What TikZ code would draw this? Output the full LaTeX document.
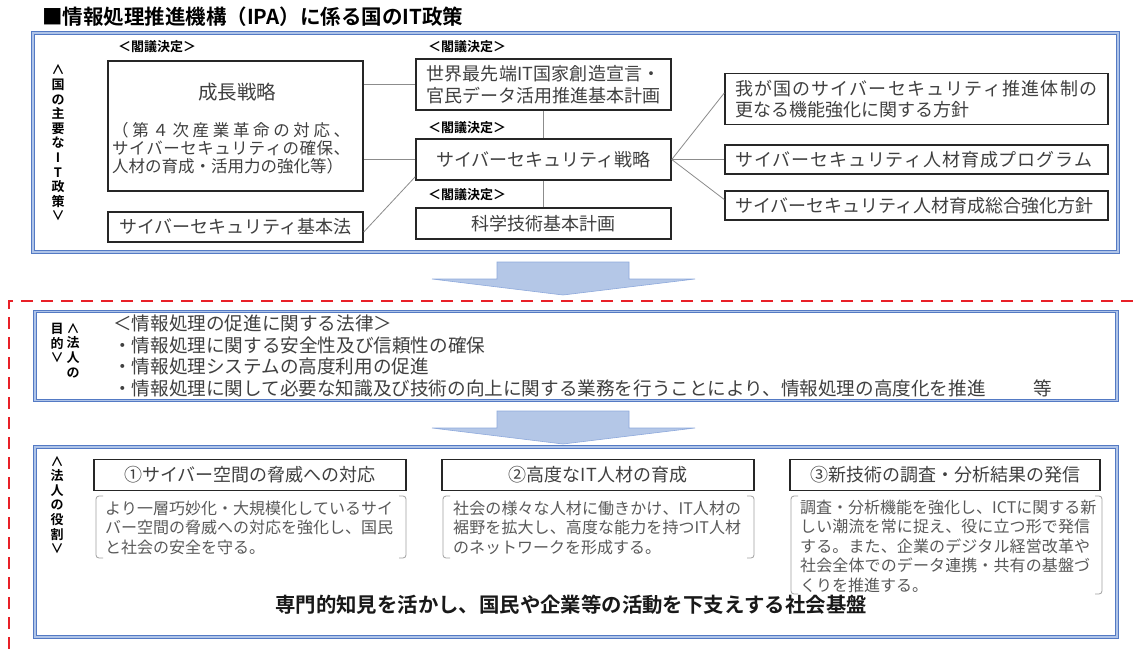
\documentclass[tikz,border=0pt]{standalone}
\usepackage{fontspec}
\newfontfamily\jp{Noto Sans CJK JP}[BoldFont={Noto Sans CJK JP Bold}]
\definecolor{frameblue}{RGB}{84,122,196}
\definecolor{framelight}{RGB}{175,196,232}
\definecolor{arrowfill}{RGB}{180,199,231}
\definecolor{arrowline}{RGB}{143,170,220}
\definecolor{txt}{RGB}{64,64,64}
\definecolor{txtlight}{RGB}{89,89,89}
\definecolor{dashred}{RGB}{232,32,40}
\definecolor{connc}{RGB}{140,140,140}
\makeatletter
\newcommand\spr[2]{\makebox[#1][s]{\let\spr@sep\relax\@tfor\spr@c:=#2\do{\spr@sep\spr@c\let\spr@sep\hfill}}}
\makeatother
\newcommand\brk[4]{%
  \draw[bracketline, rounded corners=3] (#1+7,#2) -- (#1,#2) -- (#1,#4) -- (#1+7,#4);
  \draw[bracketline, rounded corners=3] (#3-7,#2) -- (#3,#2) -- (#3,#4) -- (#3-7,#4);}
\tikzset{
  bframe/.style={draw=frameblue, line width=1, double=framelight, double distance=1.2, inner sep=0},
  kbox/.style={draw=black!85, line width=1.5, inner sep=0},
  hbox/.style={draw=black!85, line width=1.6, inner sep=0, font=\jp\fontsize{18}{22}\selectfont, text=txt},
  connl/.style={draw=connc, line width=0.8},
  kakugi/.style={font=\jp\bfseries\fontsize{13}{15}\selectfont, inner sep=0, anchor=west},
  btxt/.style={font=\jp\fontsize{18}{22}\selectfont, text=txt, inner sep=0},
  ltxt/.style={font=\jp\fontsize{18.6}{22}\selectfont, text=txt, inner sep=0, anchor=west},
  ptxt/.style={font=\jp\fontsize{16.5}{18}\selectfont, text=txt, inner sep=0, anchor=west},
  vlab/.style={font=\jp\bfseries\fontsize{13}{14.6}\selectfont, align=center, inner sep=0},
  desc/.style={font=\jp\fontsize{16}{19.5}\selectfont, text=txtlight, inner sep=0, anchor=west},
  bigarrow/.style={fill=arrowfill, draw=arrowline, line width=0.6},
  reddash/.style={draw=dashred, line width=2.6, dash pattern=on 12pt off 8pt},
  bracketline/.style={draw=gray!75, line width=0.8},
}
\begin{document}
\begin{tikzpicture}[x=1pt,y=-1pt]
\useasboundingbox (0,0) rectangle (1133,653);
\fill[white] (0,0) rectangle (1133,653);

% title
\node[anchor=west, inner sep=0, font=\jp\bfseries\fontsize{20.5}{24}\selectfont] (title) at (42,17) {■情報処理推進機構（IPA）に係る国のIT政策};

% ---------- top frame ----------
\node[bframe, minimum width=1085, minimum height=219] (topframe) at (575.5,142.5) {};
\node[vlab] (toplab) at (58,143) {∧\\国\\の\\主\\要\\な\\I\\T\\政\\策\\∨};

\node[kakugi] (k1) at (118,47) {＜閣議決定＞};
\node[kakugi] (k2) at (428,47) {＜閣議決定＞};
\node[kakugi] (k3) at (428,128) {＜閣議決定＞};
\node[kakugi] (k4) at (428,195) {＜閣議決定＞};

\node[kbox, minimum width=255, minimum height=130] (seicho) at (235.5,126) {};
\node[btxt, font=\jp\fontsize{19.5}{22}\selectfont] (seichoT) at (237,92) {成長戦略};
\node[ptxt] (p1) at (112,130) {\spr{238pt}{（第４次産業革命の対応、}};
\node[ptxt] (p2) at (112,148) {\spr{238pt}{サイバーセキュリティの確保、}};
\node[ptxt] (p3) at (112,166) {人材の育成・活用力の強化等）};

\node[kbox, minimum width=255, minimum height=30, btxt] (kihon) at (235.5,227) {サイバーセキュリティ基本法};

\node[kbox, minimum width=255, minimum height=51, btxt, align=left] (sekai) at (543.5,84.5) {\spr{234pt}{世界最先端{IT}国家創造宣言・}\\官民データ活用推進基本計画};
\node[kbox, minimum width=255, minimum height=41, btxt] (senr) at (543.5,159.5) {サイバーセキュリティ戦略};
\node[kbox, minimum width=255, minimum height=31, btxt] (kagaku) at (543.5,223.5) {科学技術基本計画};

\node[kbox, minimum width=383, minimum height=51] (ra) at (916.5,99) {};
\node[btxt, anchor=west, align=left, font=\jp\fontsize{18}{21}\selectfont] (raT) at (735,99) {\spr{362pt}{我が国のサイバーセキュリティ推進体制の}\\更なる機能強化に関する方針};
\node[kbox, minimum width=383, minimum height=29] (rb) at (916.5,159.5) {};
\node[btxt, anchor=west] (rbT) at (735,159.5) {\spr{357pt}{サイバーセキュリティ人材育成プログラム}};
\node[kbox, minimum width=383, minimum height=29] (rc) at (916.5,205.5) {};
\node[btxt, anchor=west] (rcT) at (735,205.5) {サイバーセキュリティ人材育成総合強化方針};

% connectors
\draw[connl] (seicho.east |- sekai.west) -- (sekai.west);
\draw[connl] (seicho.east |- senr.west) -- (senr.west);
\draw[connl] ([yshift=-5pt]kihon.east) -- ([yshift=4pt]senr.south west);
\draw[connl] (sekai.south) -- (senr.north);
\draw[connl] (senr.south) -- (kagaku.north);
\draw[connl] (senr.east) -- ([yshift=6pt]ra.west);
\draw[connl] (senr.east) -- (rb.west);
\draw[connl] (senr.east) -- ([yshift=6pt]rc.west);

% big arrows
\draw[bigarrow] (497,262) -- (629,262) -- (629,279) -- (695,279) -- (563,295) -- (432,279) -- (497,279) -- cycle;
\draw[bigarrow] (497,411) -- (629,411) -- (629,428) -- (695,428) -- (563,444) -- (432,428) -- (497,428) -- cycle;

% red dashed boundary
\draw[reddash] (1133,301) -- (9,301) -- (9,653);

% ---------- middle frame ----------
\node[bframe, minimum width=1082, minimum height=89] (midframe) at (576,356) {};
\node[vlab, anchor=north] (mlabR) at (73,323) {∧\\法\\人\\の};
\node[vlab, anchor=north] (mlabL) at (57,323) {目\\的\\∨};
\node[ltxt] (m1) at (113,323) {＜情報処理の促進に関する法律＞};
\node[ltxt] (m2) at (113,345) {・情報処理に関する安全性及び信頼性の確保};
\node[ltxt] (m3) at (113,366) {・情報処理システムの高度利用の促進};
\node[ltxt] (m4) at (113,388) {・情報処理に関して必要な知識及び技術の向上に関する業務を行うことにより、情報処理の高度化を推進\hspace{48pt}等};

% ---------- bottom frame ----------
\node[bframe, minimum width=1082, minimum height=190] (botframe) at (576,542) {};
\node[vlab] (botlab) at (57,505) {∧\\法\\人\\の\\役\\割\\∨};

\node[hbox, minimum width=312, minimum height=31] (h1) at (250,475) {①サイバー空間の脅威への対応};
\node[hbox, minimum width=312, minimum height=31] (h2) at (598,475) {②高度なIT人材の育成};
\node[hbox, minimum width=310, minimum height=31] (h3) at (945,475) {③新技術の調査・分析結果の発信};

\brk{96}{496}{406}{558}
\brk{443}{496}{754}{558}
\brk{791}{496}{1102}{594}

\node[desc] (d11) at (105,508) {\spr{288pt}{より一層巧妙化・大規模化しているサイ}};
\node[desc] (d12) at (105,527.5) {\spr{288pt}{バー空間の脅威への対応を強化し、国民}};
\node[desc] (d13) at (105,547) {と社会の安全を守る。};

\node[desc] (d21) at (453,508) {\spr{288pt}{社会の様々な人材に働きかけ、{IT}人材の}};
\node[desc] (d22) at (453,527.5) {\spr{288pt}{裾野を拡大し、高度な能力を持つ{IT}人材}};
\node[desc] (d23) at (453,547) {のネットワークを形成する。};

\node[desc] (d31) at (800,507) {\spr{290pt}{調査・分析機能を強化し、{ICT}に関する新}};
\node[desc] (d32) at (800,526.5) {\spr{290pt}{しい潮流を常に捉え、役に立つ形で発信}};
\node[desc] (d33) at (800,546) {\spr{290pt}{する。また、企業のデジタル経営改革や}};
\node[desc] (d34) at (800,565.5) {\spr{290pt}{社会全体でのデータ連携・共有の基盤づ}};
\node[desc] (d35) at (800,585) {くりを推進する。};

\node[inner sep=0, text=black!90, font=\jp\bfseries\fontsize{20.4}{24}\selectfont] (slogan) at (571,605) {専門的知見を活かし、国民や企業等の活動を下支えする社会基盤};
\end{tikzpicture}
\end{document}
